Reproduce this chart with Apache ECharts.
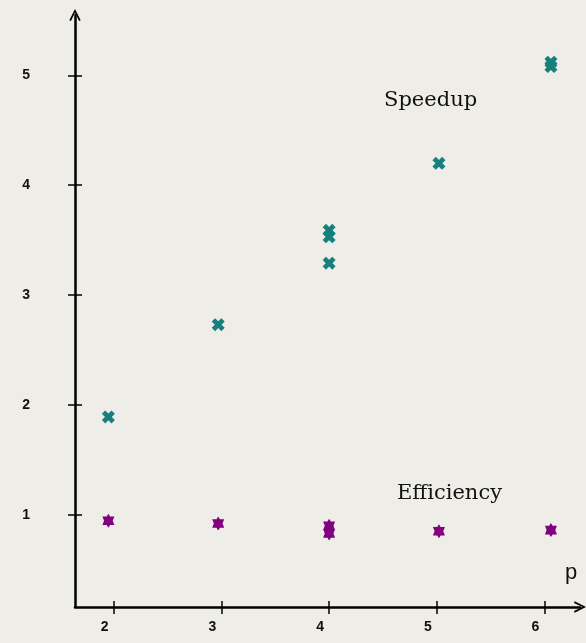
<!DOCTYPE html>
<html>
<head>
<meta charset="utf-8">
<script src="https://cdn.jsdelivr.net/npm/echarts@6/dist/echarts.min.js"></script>
<style>
  html, body { margin: 0; padding: 0; background: #eeede7; }
  #chart { width: 586px; height: 643px; }
</style>
</head>
<body>
<div id="chart"></div>
<script>
// Processor counts and measured speedup / efficiency
const speedupP = [1.95, 2.97, 4.0, 4.0, 4.0, 5.02, 6.06, 6.06];
const speedupValues = [1.89, 2.73, 3.59, 3.53, 3.29, 4.2, 5.12, 5.08];
const efficiencyP = [1.95, 2.97, 4.0, 4.0, 5.02, 6.06];
const efficiencyValues = [0.945, 0.92, 0.9, 0.83, 0.85, 0.86];
const xTicks = [2, 3, 4, 5, 6];
const yTicks = [1, 2, 3, 4, 5];

const pairs = (xs, ys) => xs.map((x, i) => [x, ys[i]]);

// Heavy "x" for speedup, six-pointed star for efficiency
const crossMark = 'path://M2.6,0 L5,2.4 L7.4,0 L10,2.6 L7.6,5 L10,7.4 L7.4,10 L5,7.6 L2.6,10 L0,7.4 L2.4,5 L0,2.6 Z';
const starMark = 'path://M5,0 L6.4,2.5 L10,2.5 L8.6,6.5 L10,10.5 L6.4,10.5 L5,13 L3.6,10.5 L0,10.5 L1.4,6.5 L0,2.5 L3.6,2.5 Z';
const arrowHead = 'path://M0,10 L5,0 L10,10 L8.6,10.6 L5,3.2 L1.4,10.6 Z';

const X_MIN = 1.64, X_MAX = 6.33, Y_MIN = 0.16, Y_MAX = 5.55;

const chart = echarts.init(document.getElementById('chart'));
chart.setOption({
  backgroundColor: '#eeede7',
  animation: false,
  grid: { left: 75, right: 6, top: 15, bottom: 36 },
  xAxis: [
    {
      type: 'value', min: X_MIN, max: X_MAX,
      splitLine: { show: false },
      axisLine: {
        onZero: false,
        lineStyle: { color: '#000', width: 2.5 },
        symbol: ['none', arrowHead], symbolSize: [12, 12]
      },
      axisTick: { show: true, length: 7, customValues: xTicks, lineStyle: { color: '#000', width: 1.5 } },
      axisLabel: {
        customValues: xTicks, margin: 13, padding: [0, 18, 0, 0],
        color: '#111', fontFamily: 'Liberation Sans', fontWeight: 'bold', fontSize: 14,
        formatter: v => String(v)
      }
    },
    {
      type: 'value', min: X_MIN, max: X_MAX, position: 'bottom',
      splitLine: { show: false }, axisLine: { show: false },
      axisTick: { show: true, inside: true, length: 6, customValues: xTicks, lineStyle: { color: '#000', width: 1.5 } },
      axisLabel: { show: false }
    }
  ],
  yAxis: [
    {
      type: 'value', min: Y_MIN, max: Y_MAX,
      splitLine: { show: false },
      axisLine: {
        onZero: false,
        lineStyle: { color: '#000', width: 2.5 },
        symbol: ['none', arrowHead], symbolSize: [12, 12]
      },
      axisTick: { show: true, length: 7, customValues: yTicks, lineStyle: { color: '#000', width: 1.5 } },
      axisLabel: {
        customValues: yTicks, margin: 45,
        color: '#111', fontFamily: 'Liberation Sans', fontWeight: 'bold', fontSize: 14,
        formatter: v => String(v)
      }
    },
    {
      type: 'value', min: Y_MIN, max: Y_MAX, position: 'left',
      splitLine: { show: false }, axisLine: { show: false },
      axisTick: { show: true, inside: true, length: 7, customValues: yTicks, lineStyle: { color: '#000', width: 1.5 } },
      axisLabel: { show: false }
    }
  ],
  series: [
    {
      name: 'Speedup', type: 'scatter',
      data: pairs(speedupP, speedupValues),
      symbol: crossMark, symbolSize: [13, 13],
      itemStyle: { color: '#16807f', opacity: 1 }
    },
    {
      name: 'Efficiency', type: 'scatter',
      data: pairs(efficiencyP, efficiencyValues),
      symbol: starMark, symbolSize: [12, 14],
      itemStyle: { color: '#800080', opacity: 1 }
    }
  ],
  graphic: [
    {
      type: 'text', left: 384, top: 90,
      style: { text: 'Speedup', font: '21px "DejaVu Serif"', fill: '#111' }
    },
    {
      type: 'text', left: 397, top: 483,
      style: { text: 'Efficiency', font: '21px "DejaVu Serif"', fill: '#111' }
    },
    {
      type: 'text', left: 565, top: 562,
      style: { text: 'p', font: '22px "Liberation Sans"', fill: '#111' }
    }
  ]
});
</script>
</body>
</html>
